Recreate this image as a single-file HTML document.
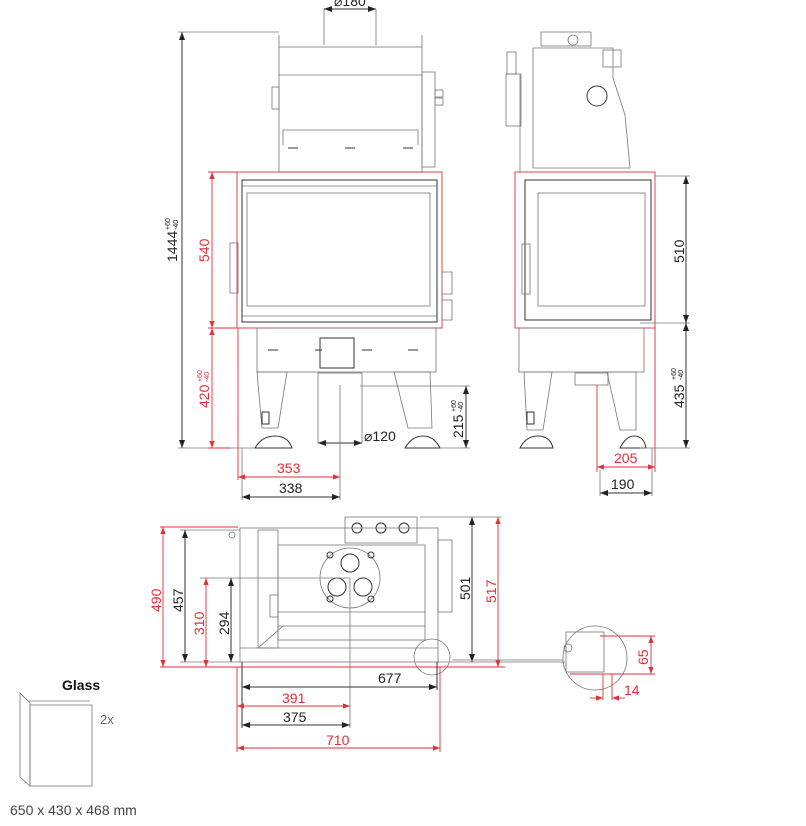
<!DOCTYPE html>
<html><head><meta charset="utf-8"><style>
html,body{margin:0;padding:0;background:#fff;}
svg{display:block;font-family:"Liberation Sans",sans-serif;}
.k{stroke:#333;fill:none;stroke-width:1}
.g{stroke:#777;fill:none;stroke-width:0.8}
.r{stroke:#e0303a;fill:none;stroke-width:0.9}
.rt{fill:#e0303a;font-size:14px}
.kt{fill:#222;font-size:14px}
</style></head><body>
<svg width="806" height="826" viewBox="0 0 806 826" xmlns="http://www.w3.org/2000/svg">
<defs>
<marker id="ak" markerWidth="8" markerHeight="6" refX="8" refY="3" orient="auto-start-reverse"><path d="M0,0L8,3L0,6z" fill="#222"/></marker>
<marker id="ar" markerWidth="8" markerHeight="6" refX="8" refY="3" orient="auto-start-reverse"><path d="M0,0L8,3L0,6z" fill="#e0303a"/></marker>
</defs>

<!-- FRONT VIEW -->
<line class="k" x1="324" y1="9" x2="376" y2="9" marker-start="url(#ak)" marker-end="url(#ak)"/>
<line class="g" x1="324" y1="9" x2="324" y2="45"/><line class="g" x1="376" y1="9" x2="376" y2="45"/>
<text class="kt" x="334" y="6">⌀180</text>
<rect class="g" x="279" y="47" width="143" height="125"/>
<line class="g" x1="279" y1="75" x2="422" y2="75"/>
<polyline class="g" points="283,145 283,130 418,130 418,145"/>
<line class="k" x1="288" y1="148" x2="298" y2="148"/><line class="k" x1="345" y1="148" x2="355" y2="148"/><line class="k" x1="403" y1="148" x2="413" y2="148"/>
<rect class="g" x="272" y="87" width="7" height="22"/>
<rect class="g" x="422" y="72" width="13" height="95"/>
<rect class="g" x="435" y="90" width="8" height="7"/><rect class="g" x="435" y="98" width="8" height="7"/>
<line class="g" x1="279" y1="35" x2="279" y2="47"/><line class="g" x1="422" y1="35" x2="422" y2="47"/>
<rect class="r" x="237" y="172" width="205" height="156"/>
<rect class="k" x="242" y="180" width="195" height="142"/>
<rect class="g" x="247" y="193" width="183" height="113"/>
<line class="g" x1="242" y1="186" x2="437" y2="186"/><line class="g" x1="242" y1="316" x2="437" y2="316"/>
<rect class="g" x="230" y="243" width="8" height="50"/>
<rect class="g" x="442" y="272" width="10" height="22"/><rect class="g" x="442" y="300" width="10" height="20"/>
<rect class="g" x="257" y="328" width="179" height="44"/>
<rect class="k" x="320" y="338" width="34" height="30"/>
<line class="k" x1="268" y1="350" x2="278" y2="350"/><line class="k" x1="315" y1="350" x2="322" y2="350"/><line class="k" x1="362" y1="350" x2="372" y2="350"/><line class="k" x1="408" y1="350" x2="418" y2="350"/>
<polygon class="g" points="257,372 287,372 278,428 262,428"/>
<polygon class="g" points="394,372 430,372 432,428 408,428"/>
<rect class="k" x="262" y="412" width="7" height="12"/>
<path class="k" d="M255,448 Q262,436 275,436 Q288,436 292,448 Z"/>
<path class="k" d="M405,448 Q412,436 423,436 Q434,436 440,448 Z"/>
<rect class="g" x="318" y="373" width="44" height="70"/>
<line class="k" x1="318" y1="443" x2="362" y2="443" marker-start="url(#ak)" marker-end="url(#ak)"/>
<text class="kt" x="364" y="441">⌀120</text>
<line class="g" x1="178" y1="32" x2="279" y2="32"/>
<line class="g" x1="178" y1="448" x2="255" y2="448"/>
<line class="k" x1="182" y1="32" x2="182" y2="448" marker-start="url(#ak)" marker-end="url(#ak)"/>
<text class="kt" transform="translate(177,262) rotate(-90)">1444</text>
<text style="fill:#222;font-size:7px" transform="translate(170,230) rotate(-90)">+60</text>
<text style="fill:#222;font-size:7px" transform="translate(178,230) rotate(-90)">-40</text>
<line class="r" x1="208" y1="172" x2="237" y2="172"/><line class="r" x1="208" y1="328" x2="237" y2="328"/><line class="r" x1="208" y1="448" x2="230" y2="448"/>
<line class="r" x1="212" y1="172" x2="212" y2="328" marker-start="url(#ar)" marker-end="url(#ar)"/>
<line class="r" x1="212" y1="328" x2="212" y2="448" marker-start="url(#ar)" marker-end="url(#ar)"/>
<text class="rt" transform="translate(209,262) rotate(-90)">540</text>
<text class="rt" transform="translate(209,408) rotate(-90)">420</text>
<text style="fill:#e0303a;font-size:7px" transform="translate(202,382) rotate(-90)">+60</text>
<text style="fill:#e0303a;font-size:7px" transform="translate(209,382) rotate(-90)">-40</text>
<line class="g" x1="360" y1="386" x2="470" y2="386"/><line class="g" x1="440" y1="448" x2="470" y2="448"/>
<line class="k" x1="466" y1="386" x2="466" y2="448" marker-start="url(#ak)" marker-end="url(#ak)"/>
<text class="kt" transform="translate(463,438) rotate(-90)">215</text>
<text style="fill:#222;font-size:7px" transform="translate(456,412) rotate(-90)">+60</text>
<text style="fill:#222;font-size:7px" transform="translate(463,412) rotate(-90)">-40</text>
<line class="r" x1="238" y1="328" x2="238" y2="480"/><line class="g" x1="242" y1="448" x2="242" y2="500"/><line class="g" x1="340" y1="385" x2="340" y2="500"/>
<line class="r" x1="238" y1="477" x2="340" y2="477" marker-start="url(#ar)" marker-end="url(#ar)"/>
<text class="rt" x="277" y="473">353</text>
<line class="k" x1="242" y1="497" x2="340" y2="497" marker-start="url(#ak)" marker-end="url(#ak)"/>
<text class="kt" x="279" y="493">338</text>

<!-- SIDE VIEW -->
<rect class="g" x="541" y="32" width="50" height="14"/>
<circle class="g" cx="573" cy="40" r="5"/>
<path class="g" d="M533,48 L613,48 L613,78 L625,115 L630,168 L533,168 Z"/>
<rect class="g" x="603" y="50" width="18" height="17"/>
<rect class="g" x="507" y="52" width="9" height="22"/><rect class="g" x="506" y="74" width="15" height="52"/>
<line class="g" x1="520" y1="74" x2="520" y2="172"/>
<circle class="k" cx="597" cy="96" r="10"/>
<rect class="r" x="515" y="172" width="140" height="156"/>
<rect class="k" x="525" y="180" width="126" height="140"/>
<rect class="g" x="538" y="193" width="107" height="113"/>
<rect class="g" x="522" y="244" width="8" height="50"/>
<rect class="g" x="519" y="328" width="125" height="44"/>
<polygon class="g" points="524,372 552,372 543,430 527,430"/>
<polygon class="g" points="607,372 636,372 636,430 620,430"/>
<rect class="k" x="527" y="412" width="7" height="12"/>
<path class="k" d="M520,448 Q526,436 538,436 Q550,436 553,448 Z"/>
<path class="k" d="M620,448 Q626,436 634,436 Q644,436 646,448 Z"/>
<rect class="g" x="575" y="373" width="33" height="12"/>
<line class="g" x1="655" y1="176" x2="690" y2="176"/><line class="g" x1="640" y1="323" x2="690" y2="323"/><line class="g" x1="640" y1="448" x2="690" y2="448"/>
<line class="k" x1="686" y1="176" x2="686" y2="323" marker-start="url(#ak)" marker-end="url(#ak)"/>
<line class="k" x1="686" y1="323" x2="686" y2="448" marker-start="url(#ak)" marker-end="url(#ak)"/>
<text class="kt" transform="translate(684,263) rotate(-90)">510</text>
<text class="kt" transform="translate(684,408) rotate(-90)">435</text>
<text style="fill:#222;font-size:7px" transform="translate(676,380) rotate(-90)">+60</text>
<text style="fill:#222;font-size:7px" transform="translate(683,380) rotate(-90)">-40</text>
<line class="r" x1="597" y1="385" x2="597" y2="472"/><line class="r" x1="655" y1="328" x2="655" y2="472"/>
<line class="g" x1="600" y1="470" x2="600" y2="496"/><line class="g" x1="652" y1="448" x2="652" y2="496"/>
<line class="r" x1="597" y1="467" x2="655" y2="467" marker-start="url(#ar)" marker-end="url(#ar)"/>
<text class="rt" x="614" y="463">205</text>
<line class="k" x1="600" y1="493" x2="652" y2="493" marker-start="url(#ak)" marker-end="url(#ak)"/>
<text class="kt" x="611" y="489">190</text>

<!-- TOP VIEW -->
<rect class="g" x="345" y="517" width="72" height="26"/>
<circle class="k" cx="357" cy="528" r="5"/><circle class="k" cx="381" cy="528" r="5"/><circle class="k" cx="404" cy="528" r="5"/>
<rect class="g" x="240" y="528" width="198" height="134"/>
<rect class="g" x="258" y="530" width="20" height="118"/>
<rect class="g" x="278" y="545" width="147" height="95"/>
<line class="g" x1="278" y1="612" x2="425" y2="612"/><line class="g" x1="278" y1="626" x2="425" y2="626"/>
<line class="g" x1="258" y1="648" x2="283" y2="626"/>
<line class="g" x1="240" y1="648" x2="438" y2="648"/>
<circle class="g" cx="350" cy="578" r="30"/>
<circle class="k" cx="350" cy="563" r="9"/><circle class="k" cx="337" cy="587" r="9"/><circle class="k" cx="363" cy="587" r="9"/>
<circle class="k" cx="330" cy="555" r="3"/><circle class="k" cx="371" cy="555" r="3"/><circle class="k" cx="330" cy="599" r="3"/><circle class="k" cx="371" cy="599" r="3"/>
<rect class="g" x="438" y="540" width="14" height="72"/>
<rect class="g" x="270" y="595" width="8" height="22"/>
<circle class="g" cx="232" cy="535" r="3"/>
<circle class="g" cx="432" cy="657" r="18"/>
<line class="r" x1="160" y1="527" x2="238" y2="527"/><line class="r" x1="160" y1="667" x2="505" y2="667"/>
<line class="g" x1="180" y1="530" x2="240" y2="530"/><line class="g" x1="180" y1="662" x2="240" y2="662"/>
<line class="g" x1="200" y1="578" x2="350" y2="578"/>
<line class="r" x1="163" y1="527" x2="163" y2="667" marker-start="url(#ar)" marker-end="url(#ar)"/>
<line class="k" x1="185" y1="530" x2="185" y2="662" marker-start="url(#ak)" marker-end="url(#ak)"/>
<line class="r" x1="206" y1="578" x2="206" y2="667" marker-start="url(#ar)" marker-end="url(#ar)"/>
<line class="k" x1="231" y1="578" x2="231" y2="662" marker-start="url(#ak)" marker-end="url(#ak)"/>
<text class="rt" transform="translate(161,612) rotate(-90)">490</text>
<text class="kt" transform="translate(183,612) rotate(-90)">457</text>
<text class="rt" transform="translate(204,635) rotate(-90)">310</text>
<text class="kt" transform="translate(229,635) rotate(-90)">294</text>
<line class="g" x1="420" y1="517" x2="502" y2="517"/><line class="g" x1="438" y1="662" x2="565" y2="662"/>
<line class="k" x1="472" y1="517" x2="472" y2="662" marker-start="url(#ak)" marker-end="url(#ak)"/>
<line class="r" x1="498" y1="517" x2="498" y2="667" marker-start="url(#ar)" marker-end="url(#ar)"/>
<text class="kt" transform="translate(470,600) rotate(-90)">501</text>
<text class="rt" transform="translate(496,603) rotate(-90)">517</text>
<line class="r" x1="237" y1="667" x2="237" y2="752"/><line class="r" x1="440" y1="667" x2="440" y2="752"/>
<line class="k" x1="242" y1="662" x2="242" y2="728"/><line class="k" x1="437" y1="662" x2="437" y2="690"/>
<line class="g" x1="350" y1="578" x2="350" y2="728"/>
<line class="k" x1="242" y1="687" x2="437" y2="687" marker-start="url(#ak)" marker-end="url(#ak)"/>
<text class="kt" x="378" y="683">677</text>
<line class="r" x1="237" y1="706" x2="350" y2="706" marker-start="url(#ar)" marker-end="url(#ar)"/>
<text class="rt" x="282" y="703">391</text>
<line class="k" x1="242" y1="725" x2="350" y2="725" marker-start="url(#ak)" marker-end="url(#ak)"/>
<text class="kt" x="283" y="722">375</text>
<line class="r" x1="237" y1="748" x2="440" y2="748" marker-start="url(#ar)" marker-end="url(#ar)"/>
<text class="rt" x="326" y="745">710</text>

<!-- detail -->
<line class="g" x1="452" y1="660" x2="563" y2="660"/>
<circle class="g" cx="595" cy="658" r="32"/>
<rect class="g" x="566" y="632" width="38" height="40"/>
<circle class="g" cx="568" cy="648" r="4"/>
<line class="r" x1="600" y1="636" x2="655" y2="636"/><line class="r" x1="570" y1="674" x2="655" y2="674"/>
<line class="r" x1="651" y1="636" x2="651" y2="674" marker-start="url(#ar)" marker-end="url(#ar)"/>
<text class="rt" transform="translate(648,665) rotate(-90)">65</text>
<line class="r" x1="603" y1="674" x2="603" y2="700"/><line class="r" x1="612" y1="674" x2="612" y2="700"/>
<line class="r" x1="590" y1="698" x2="603" y2="698" marker-end="url(#ar)"/>
<line class="r" x1="625" y1="698" x2="612" y2="698" marker-end="url(#ar)"/>
<text class="rt" x="624" y="695">14</text>

<!-- Glass -->
<text x="62" y="690" style="font-weight:bold;font-size:14px;fill:#111">Glass</text>
<polygon class="g" points="20,693 30,703 30,786 20,777"/>
<polyline class="g" points="20,693 28,701 90,701"/>
<rect class="g" x="30" y="705" width="62" height="81"/>
<text x="100" y="724" style="font-size:13px;fill:#666">2x</text>
<text x="10" y="815" style="font-size:14px;fill:#444">650 x 430 x 468 mm</text>
</svg>
</body></html>
